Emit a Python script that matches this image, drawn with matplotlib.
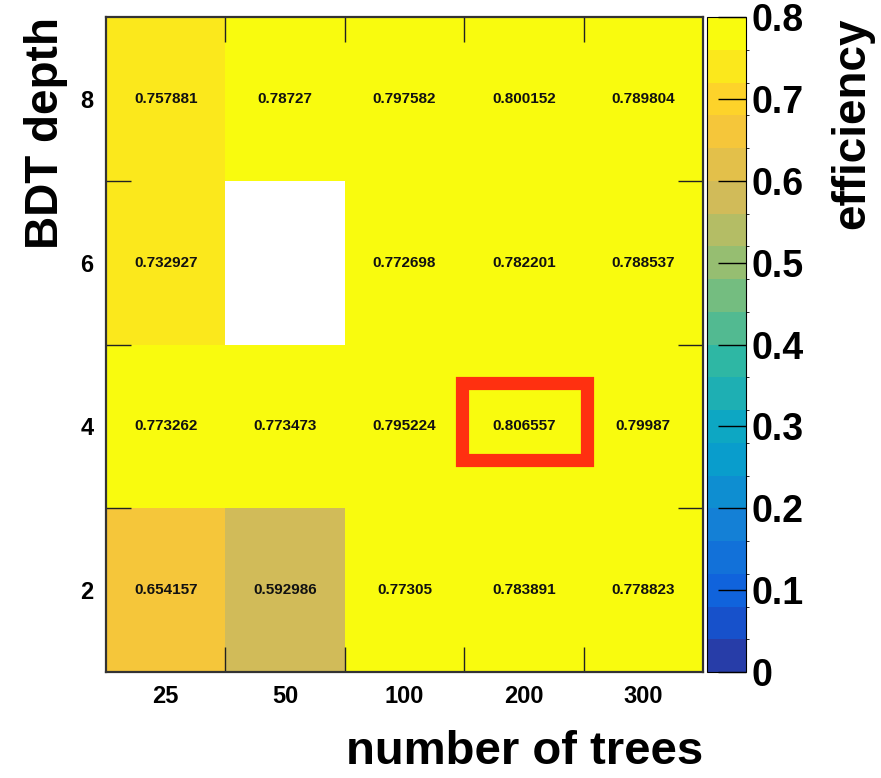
import numpy as np
import matplotlib
matplotlib.use("Agg")
import matplotlib.pyplot as plt
from matplotlib.colors import LinearSegmentedColormap, ListedColormap, BoundaryNorm
from matplotlib.patches import Rectangle

plt.rcParams['font.family'] = ['Liberation Sans', 'DejaVu Sans']
plt.rcParams['font.weight'] = 'bold'

n_trees = ['25', '50', '100', '200', '300']
depths = [2, 4, 6, 8]
# rows = depth 2, 4, 6, 8 ; columns = number of trees
efficiency = [
    [0.654157, 0.592986, 0.77305, 0.783891, 0.778823],
    [0.773262, 0.773473, 0.795224, 0.806557, 0.79987],
    [0.732927, np.nan, 0.772698, 0.782201, 0.788537],
    [0.757881, 0.78727, 0.797582, 0.800152, 0.789804],
]
best_trees = '200'
best_depth = 4

# ROOT kBird palette, 20 contour levels between 0 and 0.8
stops = [0.0, 0.125, 0.25, 0.375, 0.5, 0.625, 0.75, 0.875, 1.0]
red = [0.2082, 0.0592, 0.0780, 0.0232, 0.1802, 0.5301, 0.8186, 0.9956, 0.9764]
green = [0.1664, 0.3599, 0.5041, 0.6419, 0.7178, 0.7492, 0.7328, 0.7862, 0.9832]
blue = [0.5293, 0.8684, 0.8385, 0.7914, 0.6425, 0.4662, 0.3499, 0.1968, 0.0539]
bird = LinearSegmentedColormap.from_list(
    'bird', list(zip(stops, zip(red, green, blue))), N=255)
nlev = 20
cmap = ListedColormap([bird((i + 0.99) / nlev) for i in range(nlev)])
cmap.set_over(cmap(nlev - 1))
cmap.set_bad('white')
levels = np.linspace(0, 0.8, nlev + 1)
norm = BoundaryNorm(levels, nlev)

fig = plt.figure(figsize=(8.81, 7.78), dpi=100)
ax = fig.add_axes([0.1203, 0.1362, 0.6777, 0.8418])
cax = fig.add_axes([0.8025, 0.1362, 0.0443, 0.8418])

z = np.ma.masked_invalid(np.array(efficiency))
xedges = np.arange(len(n_trees) + 1)
yedges = np.array([1, 3, 5, 7, 9])
mesh = ax.pcolormesh(xedges, yedges, z, cmap=cmap, norm=norm)

for j, d in enumerate(depths):
    for i, t in enumerate(n_trees):
        v = efficiency[j][i]
        if not np.isnan(v):
            ax.text(i + 0.5, d, f'{v:g}', ha='center', va='center',
                    fontsize=11, fontweight='bold', color='#111111')

bi = n_trees.index(best_trees)
ax.add_patch(Rectangle((bi - 0.02, best_depth - 0.41), 1.05, 0.94,
                       fill=False, edgecolor='#ff3010', linewidth=9.5,
                       joinstyle='miter', zorder=5))

ax.set_xlim(0, len(n_trees))
ax.set_ylim(1, 9)
ax.set_xticks(xedges[:-1] + 0.5, n_trees)
ax.set_xticks(xedges[1:-1], minor=True)
ax.set_yticks(depths, [str(d) for d in depths])
ax.set_yticks([3, 5, 7], minor=True)
ax.tick_params(which='major', length=0, labelsize=17, pad=9)
ax.tick_params(axis='y', which='major', labelsize=17, pad=9)
ax.tick_params(which='minor', length=18, width=1, direction='in',
               top=True, right=True, color='#222222')
for lab in ax.get_xticklabels() + ax.get_yticklabels():
    lab.set_fontweight('bold')
for s in ax.spines.values():
    s.set_linewidth(1.6)
    s.set_color('#333333')
    s.set_zorder(6)

ax.set_xlabel('number of trees', fontsize=34, fontweight='bold', loc='right', labelpad=16)
ax.set_ylabel('BDT depth', fontsize=33, fontweight='bold', loc='top', labelpad=9)

cb = fig.colorbar(mesh, cax=cax, ticks=np.arange(0, 0.81, 0.1))
cb.outline.set_linewidth(0.8)
cb.ax.set_yticklabels(['0' if t == 0 else f'{t:.1f}' for t in np.arange(0, 0.81, 0.1)])
cb.ax.tick_params(length=20, width=1, direction='in', labelsize=27, pad=4)
for lab in cb.ax.get_yticklabels():
    lab.set_fontweight('bold')
cb.ax.set_ylabel('efficiency', fontsize=33, fontweight='bold', loc='top', labelpad=19)

fig.savefig('out.png', dpi=100)
